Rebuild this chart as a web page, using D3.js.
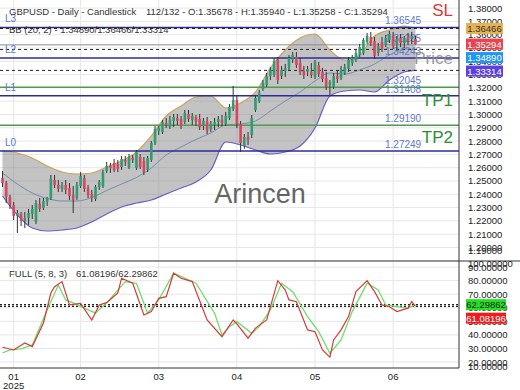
<!DOCTYPE html>
<html>
<head>
<meta charset="utf-8">
<script src="https://cdn.jsdelivr.net/npm/d3@7"></script>
<style>
  body { margin: 0; background: #fff; }
  svg { display: block; font-family: "Liberation Sans", Arial, sans-serif; }
</style>
</head>
<body>
<script>
// ---- data ----
const symbol = "GBPUSD - Daily - Candlestick";
const barInfo = "112/132 - O:1.35678 - H:1.35940 - L:1.35258 - C:1.35294";

// daily candles [open, high, low, close]
const candles = [
  [1.2522,1.2575,1.2455,1.2485],[1.2485,1.2500,1.2334,1.2380],[1.2380,1.2395,1.2289,1.2319],[1.2319,1.2342,1.2206,1.2237],
  [1.2237,1.2282,1.2109,1.2259],[1.2252,1.2267,1.2161,1.2199],[1.2199,1.2267,1.2146,1.2222],[1.2222,1.2289,1.2169,1.2259],
  [1.2252,1.2319,1.2214,1.2289],[1.2192,1.2357,1.2176,1.2334],[1.2327,1.2372,1.2267,1.2289],[1.2297,1.2372,1.2282,1.2349],
  [1.2342,1.2380,1.2312,1.2372],[1.2372,1.2545,1.2357,1.2515],[1.2507,1.2545,1.2447,1.2470],[1.2470,1.2507,1.2417,1.2440],
  [1.2440,1.2492,1.2417,1.2470],[1.2470,1.2507,1.2402,1.2432],[1.2447,1.2485,1.2357,1.2387],[1.2394,1.2462,1.2259,1.2357],
  [1.2372,1.2492,1.2357,1.2470],[1.2462,1.2567,1.2447,1.2537],[1.2522,1.2545,1.2417,1.2440],[1.2447,1.2470,1.2372,1.2394],
  [1.2402,1.2432,1.2342,1.2372],[1.2364,1.2470,1.2349,1.2455],[1.2455,1.2507,1.2432,1.2492],[1.2462,1.2583,1.2447,1.2567],
  [1.2575,1.2643,1.2560,1.2613],[1.2613,1.2635,1.2560,1.2598],[1.2635,1.2665,1.2567,1.2583],[1.2628,1.2658,1.2567,1.2590],
  [1.2605,1.2688,1.2583,1.2665],[1.2658,1.2688,1.2613,1.2643],[1.2605,1.2703,1.2590,1.2680],[1.2673,1.2695,1.2635,1.2658],
  [1.2598,1.2733,1.2583,1.2718],[1.2680,1.2703,1.2590,1.2605],[1.2650,1.2680,1.2545,1.2567],[1.2583,1.2688,1.2567,1.2673],
  [1.2658,1.2801,1.2643,1.2786],[1.2786,1.2913,1.2771,1.2891],[1.2876,1.2913,1.2846,1.2898],[1.2868,1.2959,1.2853,1.2944],
  [1.2936,1.2974,1.2898,1.2921],[1.2906,1.2989,1.2891,1.2959],[1.2951,1.3004,1.2906,1.2981],[1.2974,1.3004,1.2921,1.2951],
  [1.2966,1.2989,1.2891,1.2913],[1.2944,1.3034,1.2928,1.3011],[1.3004,1.3034,1.2944,1.2966],[1.2959,1.3011,1.2921,1.2989],
  [1.2981,1.2996,1.2913,1.2944],[1.2966,1.3004,1.2883,1.2906],[1.2913,1.2974,1.2883,1.2951],[1.2951,1.2981,1.2853,1.2876],
  [1.2891,1.2951,1.2868,1.2928],[1.2921,1.2974,1.2883,1.2944],[1.2944,1.2989,1.2906,1.2966],[1.2959,1.2996,1.2913,1.2936],
  [1.2928,1.3019,1.2913,1.2989],[1.2974,1.3079,1.2959,1.3056],[1.3041,1.3214,1.3026,1.3109],[1.3109,1.3139,1.2898,1.2928],
  [1.2928,1.2951,1.2718,1.2786],[1.2763,1.2853,1.2741,1.2831],[1.2831,1.2868,1.2771,1.2808],[1.2846,1.2996,1.2823,1.2974],
  [1.3034,1.3147,1.3019,1.3124],[1.3101,1.3184,1.3086,1.3162],[1.3192,1.3259,1.3177,1.3237],[1.3222,1.3312,1.3207,1.3289],
  [1.3289,1.3357,1.3259,1.3335],[1.3297,1.3425,1.3282,1.3402],[1.3410,1.3432,1.3229,1.3259],[1.3289,1.3365,1.3267,1.3335],
  [1.3327,1.3380,1.3282,1.3350],[1.3350,1.3447,1.3327,1.3425],[1.3410,1.3470,1.3387,1.3447],[1.3432,1.3470,1.3350,1.3372],
  [1.3387,1.3425,1.3297,1.3320],[1.3327,1.3365,1.3267,1.3297],[1.3320,1.3365,1.3289,1.3342],[1.3320,1.3387,1.3274,1.3297],
  [1.3282,1.3410,1.3267,1.3395],[1.3372,1.3395,1.3282,1.3304],[1.3320,1.3350,1.3244,1.3267],[1.3274,1.3320,1.3184,1.3207],
  [1.3222,1.3259,1.3147,1.3244],[1.3207,1.3312,1.3192,1.3289],[1.3289,1.3327,1.3237,1.3267],[1.3274,1.3365,1.3259,1.3335],
  [1.3312,1.3380,1.3297,1.3357],[1.3342,1.3432,1.3320,1.3410],[1.3387,1.3447,1.3365,1.3425],[1.3410,1.3485,1.3395,1.3462],
  [1.3447,1.3530,1.3432,1.3507],[1.3462,1.3575,1.3447,1.3560],[1.3545,1.3613,1.3530,1.3590],[1.3583,1.3620,1.3515,1.3538],
  [1.3553,1.3583,1.3417,1.3440],[1.3462,1.3538,1.3440,1.3515],[1.3545,1.3583,1.3470,1.3492],[1.3523,1.3598,1.3507,1.3575],
  [1.3560,1.3628,1.3538,1.3605],[1.3590,1.3620,1.3492,1.3515],[1.3530,1.3590,1.3485,1.3568],[1.3575,1.3605,1.3507,1.3538],
  [1.3538,1.3590,1.3500,1.3575],[1.3583,1.3613,1.3523,1.3553],[1.3568,1.3620,1.3530,1.3590],[1.35678,1.35940,1.35258,1.35294]
];

// Bollinger band (20, 2), read at these bars
const bbBars  = [0,4,8,12,16,20,24,28,32,36,40,44,48,52,56,60,64,68,72,76,80,84,88,92,96,100,104,108,111];
const bbUpper = [1.27291,1.27103,1.26727,1.26126,1.25675,1.25524,1.25599,1.26051,1.26502,1.27179,1.28382,1.29886,1.30638,1.31315,
                 1.31390,1.30488,1.30863,1.31691,1.33495,1.34849,1.35751,1.36052,1.34849,1.34097,1.34473,1.35902,1.36353,1.36654,1.36466];
const bbMid   = [1.25599,1.24772,1.24095,1.23682,1.23494,1.23494,1.23757,1.24283,1.24772,1.25261,1.25975,1.26953,1.27555,1.28119,
                 1.28607,1.29209,1.29284,1.29510,1.30262,1.31014,1.31691,1.32518,1.33119,1.33044,1.33345,1.33796,1.34473,1.34924,1.34890];
const bbLower = [1.23870,1.22441,1.21463,1.21238,1.21313,1.21463,1.21915,1.22516,1.23043,1.23343,1.23569,1.24020,1.24471,1.24923,
                 1.25825,1.27931,1.27705,1.27329,1.27028,1.27179,1.27630,1.28983,1.31390,1.31766,1.31841,1.31691,1.32593,1.33195,1.33314];
const bbNow   = [1.34890, 1.36466, 1.33314]; // mid / upper / lower

// horizontal levels
const levelValues = [1.36545, 1.35235, 1.34243, 1.32045, 1.31408, 1.29190, 1.27249];
const levelKinds  = ["L", "price", "L", "tp", "L", "tp", "L"];
const levelTags   = ["L3", "", "L2", "", "L1", "", "L0"];
const lastClose = 1.35294;

// stochastic FULL (5, 8, 3), read at these bars
const kBars = [0,3,6,8,11,13,14,16,18,21,24,26,28,31,32,35,38,40,42,44,46,48,51,55,59,62,63,66,68,71,74,76,77,79,82,84,86,88,89,91,93,95,98,100,102,104,106,109,110,111];
const kVals = [30.9,28.9,34.1,31.4,48.8,70.9,75.6,79.3,62.1,63.3,51.0,62.1,63.8,70.9,81.8,78.1,54.7,57.2,67.0,68.2,85.5,81.8,79.3,51.0,38.7,51.0,48.1,37.6,45.0,51.0,80.0,73.1,65.8,64.5,43.7,42.4,28.9,23.6,36.3,43.7,53.5,71.9,80.0,71.9,62.1,60.8,57.2,59.7,64.5,61.08196];
const dBars = [0,2,5,8,12,15,17,19,23,25,28,33,36,39,42,46,52,57,59,61,63,67,69,72,75,78,82,85,88,91,94,98,101,103,106,109,111];
const dVals = [26.7,28.9,29.7,32.6,58.4,76.8,65.8,63.6,58.4,56.2,63.6,79.3,78.1,56.0,65.8,85.5,78.1,56.0,40.0,46.1,49.8,41.2,46.1,58.4,78.1,71.9,53.5,42.4,26.5,36.3,57.2,78.1,73.1,62.1,60.8,59.7,62.29862];

const monthBars   = [3, 21, 42, 63, 84, 105];
const monthLabels = ["01", "02", "03", "04", "05", "06"];
const yearLabel = "2025";

// ---- layout ----
const width = 520, height = 390;
const plotRight = 459;
const mainTop = 0, mainBottom = 261;
const stTop = 261, stBottom = 368;
const fmt = d3.format(".5f");

const svg = d3.select("body").append("svg")
  .attr("width", width)
  .attr("height", height);

const x = d3.scaleLinear().domain([-0.672, 122.7]).range([0, plotRight]);
const y = d3.scaleLinear().domain([1.1898, 1.38609]).range([mainBottom, mainTop]);
const ys = d3.scaleLinear().domain([15.6, 94.5]).range([stBottom, stTop]);

svg.append("defs").append("clipPath").attr("id", "clipMain")
  .append("rect").attr("x", 0).attr("y", mainTop).attr("width", plotRight).attr("height", mainBottom - mainTop);

// layers, back to front
const gridG = svg.append("g");
const bandG = svg.append("g").attr("clip-path", "url(#clipMain)");
const waterG = svg.append("g");
const levelG = svg.append("g").attr("clip-path", "url(#clipMain)");
const levelTextG = svg.append("g");
const candleG = svg.append("g").attr("clip-path", "url(#clipMain)");
const bigG = svg.append("g").attr("font-size", 17).attr("text-anchor", "end");
const stG = svg.append("g");
const axisG = svg.append("g");

// grid
const priceTicks = d3.range(119, 139).map(d => d / 100);
gridG.append("g").selectAll("line").data(priceTicks.filter(d => y(d) > mainTop && y(d) < mainBottom)).join("line")
  .attr("x1", 0).attr("x2", plotRight).attr("y1", d => y(d)).attr("y2", d => y(d))
  .attr("stroke", "#e6e6e6");
const stTicks = d3.range(10, 101, 10);
gridG.append("g").selectAll("line").data(stTicks.filter(d => ys(d) > stTop && ys(d) < stBottom)).join("line")
  .attr("x1", 0).attr("x2", plotRight).attr("y1", d => ys(d)).attr("y2", d => ys(d))
  .attr("stroke", "#e6e6e6");
gridG.append("g").selectAll("line").data(monthBars).join("line")
  .attr("x1", d => x(d)).attr("x2", d => x(d)).attr("y1", 0).attr("y2", stBottom)
  .attr("stroke", "#e6e6e6");

// bollinger band
const bb = bbBars.map((b, i) => ({ b, u: bbUpper[i], m: bbMid[i], l: bbLower[i] }));
bandG.append("path").datum(bb)
  .attr("d", d3.area().x(d => x(d.b)).y0(d => y(d.l)).y1(d => y(d.u)).curve(d3.curveMonotoneX))
  .attr("fill", "rgba(130,130,130,0.48)");
bandG.append("path").datum(bb)
  .attr("d", d3.line().x(d => x(d.b)).y(d => y(d.u)).curve(d3.curveMonotoneX))
  .attr("fill", "none").attr("stroke", "#c9a35a").attr("stroke-width", 1.2);
bandG.append("path").datum(bb)
  .attr("d", d3.line().x(d => x(d.b)).y(d => y(d.m)).curve(d3.curveMonotoneX))
  .attr("fill", "none").attr("stroke", "#6f8fb2").attr("stroke-width", 1);
bandG.append("path").datum(bb)
  .attr("d", d3.line().x(d => x(d.b)).y(d => y(d.l)).curve(d3.curveMonotoneX))
  .attr("fill", "none").attr("stroke", "#6a5ccf").attr("stroke-width", 1.2);

// watermark
waterG.append("text").attr("x", 260).attr("y", 203).attr("text-anchor", "middle")
  .attr("font-size", 27).attr("fill", "#555").attr("opacity", 0.9).text("Arincen");

const kindColor = { L: "#2c2c98", price: "#8a8a8a", tp: "#4e9a4e" };
const kindWidth = { L: 1.5, price: 1, tp: 1.5 };

// levels
levelValues.forEach((v, i) => {
  const k = levelKinds[i];
  levelG.append("line")
    .attr("x1", 0).attr("x2", plotRight).attr("y1", y(v)).attr("y2", y(v))
    .attr("stroke", kindColor[k]).attr("stroke-width", kindWidth[k]);
  levelTextG.append("text").attr("x", 385).attr("y", y(v) - 3)
    .attr("font-size", 10).attr("fill", "#5b78d2").text(fmt(v));
  if (levelTags[i]) {
    levelTextG.append("text").attr("x", 5).attr("y", y(v) - 5)
      .attr("font-size", 10).attr("fill", "#5b78d2").text(levelTags[i]);
  }
});

// current band values as dashed lines
bbNow.forEach(v => {
  levelG.append("line")
    .attr("x1", 0).attr("x2", plotRight).attr("y1", y(v)).attr("y2", y(v))
    .attr("stroke", "#222").attr("stroke-width", 1).attr("stroke-dasharray", "3,3");
});

// candles
const bw = 2.6;
candleG.selectAll("line").data(candles).join("line")
  .attr("x1", (d, i) => x(i)).attr("x2", (d, i) => x(i))
  .attr("y1", d => y(d[1])).attr("y2", d => y(d[2]))
  .attr("stroke", "#333").attr("stroke-width", 1);
candleG.selectAll("rect").data(candles).join("rect")
  .attr("x", (d, i) => x(i) - bw / 2).attr("width", bw)
  .attr("y", d => y(Math.max(d[0], d[3])))
  .attr("height", d => Math.max(1, Math.abs(y(d[0]) - y(d[3]))))
  .attr("fill", d => d[3] >= d[0] ? "#2f9c72" : "#d9465f");

// signal words
bigG.append("text").attr("x", 453).attr("y", y(levelValues[0]) - 11).attr("fill", "#d83a3a").text("SL");
bigG.append("text").attr("x", 453).attr("y", y(levelValues[1]) + 19).attr("fill", "#8a8a8a").attr("opacity", 0.85).text("Price");
bigG.append("text").attr("x", 453).attr("y", y(levelValues[3]) + 19).attr("fill", "#2f8f2f").text("TP1");
bigG.append("text").attr("x", 453).attr("y", y(levelValues[5]) + 18).attr("fill", "#2f8f2f").text("TP2");

// legends
axisG.append("text").attr("x", 9).attr("y", 15).attr("font-size", 9.5).attr("fill", "#333").text(symbol);
axisG.append("text").attr("x", 146).attr("y", 15).attr("font-size", 9.5).attr("fill", "#333").text(barInfo);
axisG.append("text").attr("x", 9).attr("y", 33).attr("font-size", 9.5).attr("fill", "#333")
  .text(`BB (20, 2) - ${bbNow.map(fmt).join("/")}`);

// stochastic
const kNow = kVals[kVals.length - 1], dNow = dVals[dVals.length - 1];
[kNow, dNow].forEach(v => {
  stG.append("line").attr("x1", 0).attr("x2", plotRight).attr("y1", ys(v)).attr("y2", ys(v))
    .attr("stroke", "#222").attr("stroke-width", 1.2).attr("stroke-dasharray", "2,2");
});
const stLine = d3.line().x(d => x(d[0])).y(d => ys(d[1]));
stG.append("path").datum(dBars.map((b, i) => [b, dVals[i]])).attr("d", stLine)
  .attr("fill", "none").attr("stroke", "#6ede6e").attr("stroke-width", 1.3);
stG.append("path").datum(kBars.map((b, i) => [b, kVals[i]])).attr("d", stLine)
  .attr("fill", "none").attr("stroke", "#d93a3a").attr("stroke-width", 1.2);
stG.append("text").attr("x", 9).attr("y", 277).attr("font-size", 9.5).attr("fill", "#333").text("FULL (5, 8, 3)");
stG.append("text").attr("x", 76).attr("y", 277).attr("font-size", 9.5).attr("fill", "#333")
  .text(`${fmt(kNow)}/${fmt(dNow)}`);

// frame
axisG.append("line").attr("x1", 0).attr("x2", width).attr("y1", stTop).attr("y2", stTop).attr("stroke", "#333");
axisG.append("line").attr("x1", 0).attr("x2", plotRight).attr("y1", stBottom).attr("y2", stBottom).attr("stroke", "#333");
axisG.append("line").attr("x1", plotRight).attr("x2", plotRight).attr("y1", 0).attr("y2", stBottom).attr("stroke", "#333");

// axis labels
axisG.append("g").selectAll("text").data(priceTicks).join("text")
  .attr("x", 468).attr("y", d => Math.min(250, y(d)) + 3.5)
  .attr("font-size", 9.5).attr("fill", "#222").text(d => fmt(d));
axisG.append("g").selectAll("text").data(stTicks).join("text")
  .attr("x", 468).attr("y", d => Math.max(263, Math.min(366, ys(d))) + 3.5)
  .attr("font-size", 9.5).attr("fill", "#222").text(d => fmt(d));

// value boxes on the axis (pushed down so they do not overlap)
function boxes(items, scale) {
  let prev = -Infinity;
  items.forEach(it => {
    const cy = Math.max(scale(it.v), prev + 13.5);
    prev = cy;
    axisG.append("rect").attr("x", 466).attr("y", cy - 5.5).attr("width", it.w).attr("height", 11).attr("fill", it.bg);
    axisG.append("text").attr("x", 466 + it.w / 2).attr("y", cy + 3.5).attr("text-anchor", "middle")
      .attr("font-size", 9.5).attr("fill", it.fg).text(fmt(it.v));
  });
}
boxes([
  { v: bbNow[1], bg: "#e7b24f", fg: "#333", w: 37 },
  { v: lastClose, bg: "#e8434f", fg: "#fff", w: 37 },
  { v: bbNow[0], bg: "#2196f3", fg: "#fff", w: 37 },
  { v: bbNow[2], bg: "#5b3fe0", fg: "#fff", w: 37 }
], y);
boxes([
  { v: dNow, bg: "#22e022", fg: "#222", w: 40 },
  { v: kNow, bg: "#ee1c1c", fg: "#fff", w: 40 }
], ys);

// time axis
axisG.append("g").selectAll("text").data(monthBars).join("text")
  .attr("x", d => x(d)).attr("y", 380).attr("text-anchor", "middle")
  .attr("font-size", 9.5).attr("fill", "#222").text((d, i) => monthLabels[i]);
axisG.append("text").attr("x", x(monthBars[0])).attr("y", 389).attr("text-anchor", "middle")
  .attr("font-size", 9.5).attr("fill", "#222").text(yearLabel);
</script>
</body>
</html>
